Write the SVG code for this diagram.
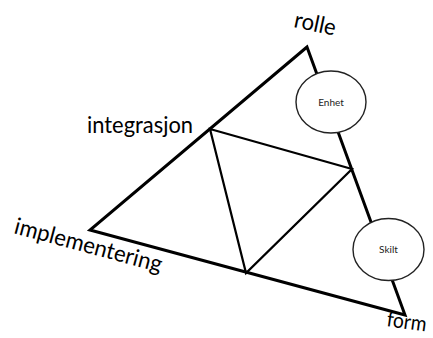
<svg xmlns="http://www.w3.org/2000/svg" width="433" height="338" viewBox="0 0 433 338">
<style>
.outer{fill:none;stroke:#000;stroke-width:3;stroke-linejoin:miter}
.inner{fill:none;stroke:#000;stroke-width:2.2}
.circ{fill:#fff;stroke:#222;stroke-width:1.4}
.lbl{font-family:Lato,"Open Sans","Liberation Sans",sans-serif;font-size:23px;fill:#000}
.sm{font-family:Lato,"Open Sans","Liberation Sans",sans-serif;font-size:10px;fill:#222;text-anchor:middle}
</style>
<rect width="433" height="338" fill="#fff"/>
<g id="connectors">
<polygon class="outer" points="307,47 90,230 405,315"/>
<polygon class="inner" points="210,129 352,169 246,273"/>
</g>
<g id="enhet">
<ellipse class="circ" cx="331" cy="102" rx="35" ry="31"/>
<text class="sm" x="331" y="106">Enhet</text>
</g>
<g id="skilt">
<ellipse class="circ" cx="388.5" cy="249.5" rx="35.5" ry="31"/>
<text class="sm" x="388.5" y="253">Skilt</text>
</g>
<g id="rolle"><text class="lbl" x="293" y="27" transform="rotate(12 293 27)" textLength="42" lengthAdjust="spacingAndGlyphs">rolle</text></g>
<g id="integrasjon"><text class="lbl" x="87" y="133" textLength="106" lengthAdjust="spacingAndGlyphs">integrasjon</text></g>
<g id="implementering"><text class="lbl" x="13" y="233" transform="rotate(15 13 233)" textLength="152" lengthAdjust="spacingAndGlyphs">implementering</text></g>
<g id="form"><text class="lbl" x="386" y="326" transform="rotate(8 386 326)" textLength="40" lengthAdjust="spacingAndGlyphs" style="font-size:21px">form</text></g>
</svg>
